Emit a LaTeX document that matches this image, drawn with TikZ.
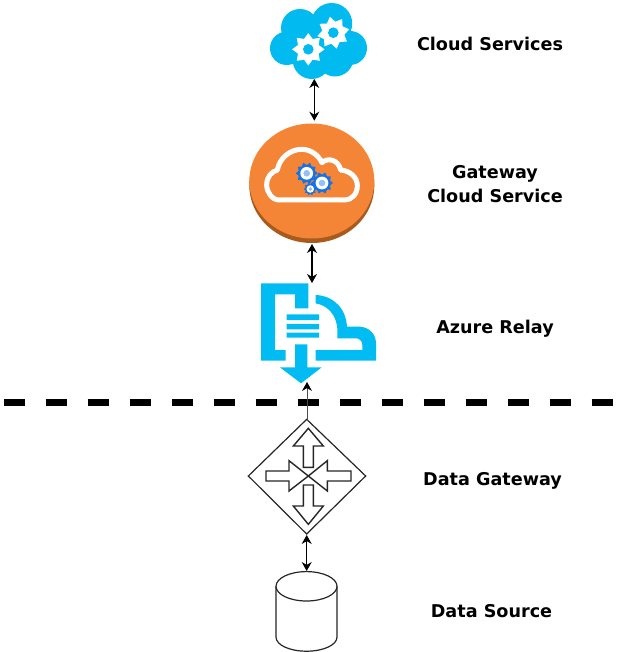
\documentclass[tikz,border=0pt]{standalone}
\usepackage{fontspec}
\setmainfont{DejaVu Sans}
\definecolor{skyc}{HTML}{00BAF0}
\definecolor{relayc}{HTML}{00BCF2}
\definecolor{orangec}{HTML}{F58536}
\definecolor{orangedk}{HTML}{A85B1F}
\definecolor{gearc}{HTML}{1573E6}
\usetikzlibrary{arrows.meta}
\tikzset{
  lbl/.style={font=\fontsize{17.6pt}{24pt}\selectfont\bfseries, align=center, text=black, inner sep=0pt},
  link/.style={draw=black, line width=1.1pt, {Stealth[length=9pt,width=10pt]}-{Stealth[length=9pt,width=10pt]}},
  uplink/.style={draw=black!70, line width=1pt, -{Stealth[length=9pt,width=10pt,color=black]}},
  boundary/.style={draw=black, line width=6.5pt, dash pattern=on 21pt off 21pt},
  outline/.style={draw=black!85, line width=1.2pt, fill=white},
  gateoutline/.style={draw=black!85, line width=1.4pt, fill=white, line join=miter},
}
\newcommand{\whitegear}[3]{%
  \fill[white,shift={(#1,#2)},rotate=#3] plot[samples at={0,22.5,...,337.5}]
    ({cos(\x)*(13.75+2.55*cos(8*\x))},{sin(\x)*(13.75+2.55*cos(8*\x))}) -- cycle;
  \fill[skyc] (#1,#2) circle (5.3);}
\newcommand{\bluegear}[3]{%
  \fill[gearc,shift={(#1,#2)}] plot[samples at={0,18,...,342}]
    ({cos(\x)*(#3*(0.88+0.12*cos(10*\x)))},{sin(\x)*(#3*(0.88+0.12*cos(10*\x)))}) -- cycle;
  \fill[white] (#1,#2) circle (#3*0.58);
  \fill[gearc!45] (#1,#2) circle (#3*0.3);}
\begin{document}
\begin{tikzpicture}[x=1pt,y=-1pt]
\useasboundingbox (0,0) rectangle (626,652);
\fill[white] (0,0) rectangle (626,652);

% Cloud services icon
\fill[skyc] (286.7,48.3) circle (16.7) (300,28) circle (19) (331.7,23.5) circle (20.5)
  (350,48) circle (17) (311.7,60) circle (19) (335,58) circle (18.5) (318,40) circle (22);
\whitegear{308.3}{49.3}{0}
\whitegear{333.3}{32.7}{12}
\coordinate (cloudB) at (314.3,79);
\coordinate (diskT) at (314.3,120.7);

% Gateway cloud service disc
\fill[orangedk] (311.8,185.5) ellipse (62.5 and 57.5);
\fill[orangec] (311.8,181) ellipse (62.5 and 57.5);
\begin{scope}[shift={(240,120)},scale=1/3]
\draw[white,line width=5pt,line join=round]
  (118,240) .. controls (95,240) and (80,215) .. (80,195)
  .. controls (80,170) and (95,155) .. (112,150)
  .. controls (118,115) and (150,88) .. (185,88)
  .. controls (212,88) and (235,105) .. (246,128)
  .. controls (262,112) and (295,118) .. (302,150)
  .. controls (330,152) and (352,172) .. (352,197)
  .. controls (352,222) and (335,240) .. (315,240) -- cycle;
\end{scope}
\bluegear{306.7}{173.3}{11}
\bluegear{322}{183}{11}
\bluegear{310.3}{189}{6.5}
\coordinate (diskB) at (312,244);
\coordinate (relayT) at (312,283);

% Azure relay icon
\begin{scope}[shift={(250,275)},scale=1/3]
\fill[relayc] (33,25) -- (175,25) -- (175,100) -- (135,100) -- (135,58) -- (75,58) -- (75,225)
  -- (107,225) -- (107,257) -- (33,257) -- cycle;
\fill[relayc] (197,60) .. controls (250,62) and (288,100) .. (291,155) -- (330,155)
  .. controls (358,157) and (378,178) .. (378,205) -- (378,257) -- (197,257) -- (197,225) -- (337,225)
  -- (337,210) .. controls (337,198) and (328,190) .. (318,190) -- (262,190) -- (262,160)
  .. controls (258,120) and (235,92) .. (197,85) -- cycle;
\fill[relayc] (110,118) rectangle (207,135) (110,147) rectangle (207,163) (110,173) rectangle (207,188);
\fill[relayc] (135,208) -- (172,208) -- (172,277) -- (215,277) -- (153,325) -- (90,277) -- (135,277) -- cycle;
\end{scope}
\coordinate (relayB) at (307,382);

% Boundary line
\coordinate (bndL) at (3.7,402.3);
\coordinate (bndR) at (614,402.3);
\draw[boundary] (bndL) -- (bndR);

% Data gateway icon
\begin{scope}[shift={(240,410)},scale=1/3]
\draw[outline] (200,28) -- (377,198) -- (200,372) -- (25,198) -- cycle;
\draw[gateoutline] (205,55) -- (250,108) -- (220,108) -- (220,172) -- (190,172) -- (190,108) -- (160,108) -- cycle;
\draw[gateoutline] (78,183) -- (147,183) -- (147,152) -- (205,198) -- (147,243) -- (147,213) -- (78,213) -- cycle;
\draw[gateoutline] (333,183) -- (262,183) -- (262,152) -- (205,198) -- (262,243) -- (262,213) -- (333,213) -- cycle;
\draw[gateoutline] (190,225) -- (220,225) -- (220,288) -- (250,288) -- (205,343) -- (160,288) -- (190,288) -- cycle;
\end{scope}
\coordinate (gateT) at (307,420);
\coordinate (gateB) at (306.7,535);
\coordinate (dbT) at (306.7,571);

% Data source cylinder
\draw[outline] (276,586.3) -- (276,637) .. controls (276,645.1) and (289.7,651.2) .. (306.5,651.2)
  .. controls (323.3,651.2) and (337,645.1) .. (337,637) -- (337,586.3);
\draw[outline] (306.5,586.3) ellipse (30.5 and 14.7);

% Connectors
\draw[link] (cloudB) -- (diskT);
\draw[link] (diskB) -- (relayT);
\draw[uplink] (gateT) -- (relayB);
\draw[link] (gateB) -- (dbT);

% Labels
\node[lbl] (l1) at (490,44) {Cloud Services};
\node[lbl] (l2) at (495,184) {Gateway\\Cloud Service};
\node[lbl] (l3) at (495,328.5) {Azure Relay};
\node[lbl] (l4) at (492.5,480.5) {Data Gateway};
\node[lbl] (l5) at (491.5,611) {Data Source};
\end{tikzpicture}
\end{document}
